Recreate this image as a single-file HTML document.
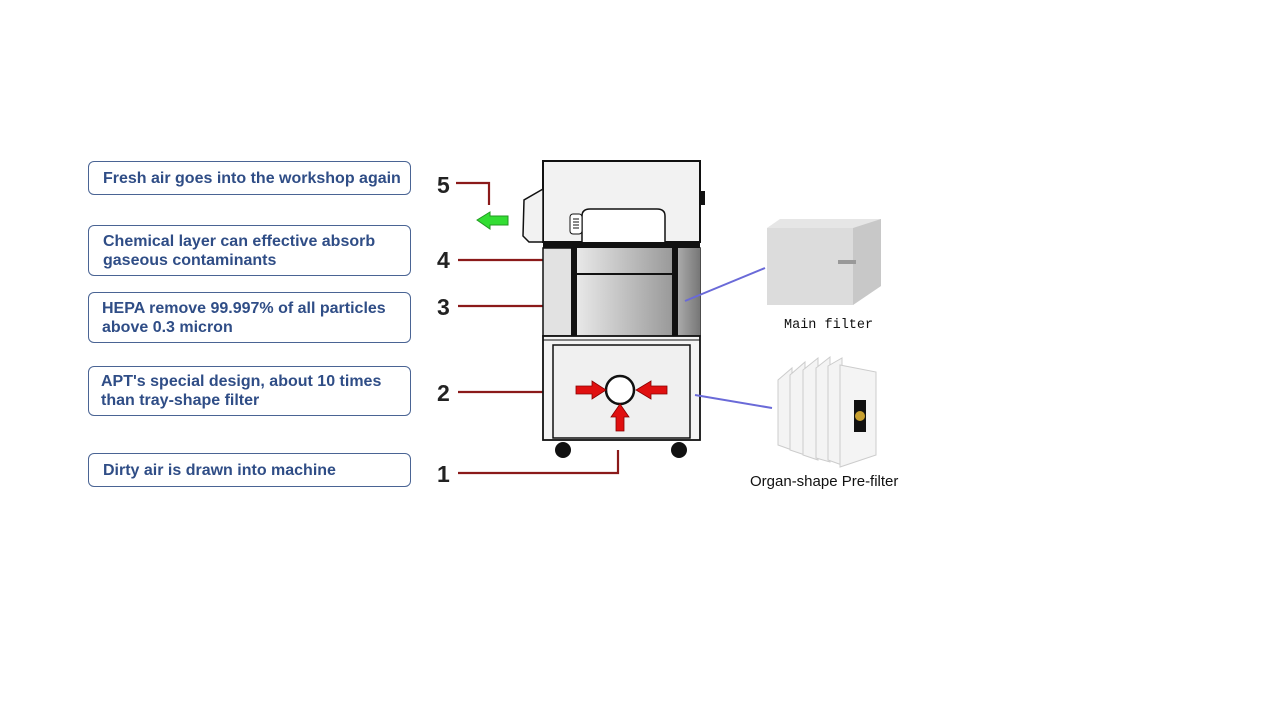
<!DOCTYPE html>
<html><head><style>
body{margin:0;width:1280px;height:720px;background:#fff;position:relative;overflow:hidden;font-family:"Liberation Sans",sans-serif}
.b{position:absolute;left:88px;width:323px;border:1.6px solid #4a6494;border-radius:6px;color:#2f4d86;font-weight:bold;font-size:16px;line-height:19px;box-sizing:border-box;padding-left:14px;display:flex;align-items:center}
</style></head><body>
<div class="b" style="top:161px;height:34px">Fresh air goes into the workshop again</div>
<div class="b" style="top:225px;height:51px">Chemical layer can effective absorb<br>gaseous contaminants</div>
<div class="b" style="top:292px;height:51px;padding-left:13px">HEPA remove 99.997% of all particles<br>above 0.3 micron</div>
<div class="b" style="top:366px;height:50px;padding-left:12px">APT's special design, about 10 times<br>than tray-shape filter</div>
<div class="b" style="top:453px;height:34px">Dirty air is drawn into machine</div>
<svg width="1280" height="720" style="position:absolute;left:0;top:0">
<defs>
<linearGradient id="g1" x1="0" x2="1"><stop offset="0" stop-color="#e8e8e8"/><stop offset="1" stop-color="#9a9a9a"/></linearGradient>
<linearGradient id="g2" x1="0" x2="1"><stop offset="0" stop-color="#aaa"/><stop offset="1" stop-color="#777"/></linearGradient>
</defs>
<g font-family="Liberation Sans" font-weight="bold" font-size="23" fill="#222">
<text x="437" y="193">5</text><text x="437" y="268">4</text><text x="437" y="315">3</text><text x="437" y="401">2</text><text x="437" y="482">1</text></g>
<g stroke="#8b1a1a" stroke-width="2.2" fill="none">
<polyline points="456,183 489,183 489,205"/>
<line x1="458" y1="260" x2="565" y2="260"/><line x1="458" y1="306" x2="565" y2="306"/>
<line x1="458" y1="392" x2="546" y2="392"/><polyline points="458,473 618,473 618,450"/></g>
<polygon points="477,220 490,212 490,216 508,216 508,225 490,225 490,229" fill="#33dd33" stroke="#229922"/>
<rect x="543" y="161" width="157" height="81" fill="#f2f2f2" stroke="#111" stroke-width="2"/>
<rect x="700" y="191" width="5" height="14" fill="#111"/>
<polygon points="543,189 524,200 523,236 529,242 543,242" fill="#f2f2f2" stroke="#111" stroke-width="1.5"/>
<path d="M582,242 V216 Q582,209 590,209 H657 Q665,209 665,216 V242" fill="#fff" stroke="#111" stroke-width="1.5"/>
<rect x="570" y="214" width="12" height="20" rx="3" fill="#fff" stroke="#111"/>
<g stroke="#111"><line x1="573" y1="219" x2="579" y2="219"/><line x1="573" y1="222" x2="579" y2="222"/><line x1="573" y1="225" x2="579" y2="225"/><line x1="573" y1="228" x2="579" y2="228"/></g>
<rect x="543" y="242" width="157" height="6" fill="#111"/>
<rect x="543" y="248" width="157" height="88" fill="#e2e2e2" stroke="#111" stroke-width="1.5"/>
<rect x="577" y="248" width="95" height="88" fill="url(#g1)"/>
<rect x="678" y="248" width="22" height="88" fill="url(#g2)"/>
<rect x="571" y="248" width="6" height="88" fill="#111"/><rect x="672" y="248" width="6" height="88" fill="#111"/>
<rect x="577" y="273" width="95" height="2" fill="#111"/>
<rect x="543" y="336" width="157" height="104" fill="#f4f4f4" stroke="#111" stroke-width="1.8"/>
<line x1="543" y1="340" x2="700" y2="340" stroke="#111" stroke-width="1"/>
<rect x="553" y="345" width="137" height="93" fill="#f0f0f0" stroke="#111" stroke-width="1.5"/>
<circle cx="620" cy="390" r="14" fill="#fff" stroke="#111" stroke-width="2.5"/>
<g fill="#e01010" stroke="#800" stroke-width="0.8">
<polygon points="576,386 592,386 592,381 606,390 592,399 592,394 576,394"/>
<polygon points="667,386 651,386 651,381 636,390 651,399 651,394 667,394"/>
<polygon points="616,431 616,417 611,417 620,404 629,417 624,417 624,431"/></g>
<circle cx="563" cy="450" r="8" fill="#111"/><circle cx="679" cy="450" r="8" fill="#111"/>
<g stroke="#6a6ad8" stroke-width="2"><line x1="685" y1="301" x2="765" y2="268"/><line x1="695" y1="395" x2="772" y2="408"/></g>
<polygon points="767,228 780,219 881,219 881,286 853,305 767,305" fill="#e6e6e6"/>
<polygon points="767,228 853,228 853,305 767,305" fill="#dcdcdc"/>
<polygon points="853,228 881,219 881,286 853,305" fill="#c8c8c8"/>
<rect x="838" y="260" width="18" height="4" fill="#999"/>
<text x="784" y="328" font-family="Liberation Mono" font-size="13.5" fill="#111">Main filter</text>
<g fill="#f4f4f4" stroke="#ccc">
<polygon points="778,380 792,368 792,450 778,445"/><polygon points="790,375 805,362 805,455 790,450"/>
<polygon points="803,370 818,358 818,460 803,455"/><polygon points="816,368 830,357 830,462 816,458"/>
<polygon points="828,366 842,358 842,465 828,460"/><polygon points="840,365 876,372 876,455 840,467"/></g>
<rect x="854" y="400" width="12" height="32" fill="#111"/><circle cx="860" cy="416" r="5" fill="#c8a030"/>
<text x="750" y="486" font-family="Liberation Sans" font-size="15" fill="#111">Organ-shape Pre-filter</text>
</svg>
</body></html>
